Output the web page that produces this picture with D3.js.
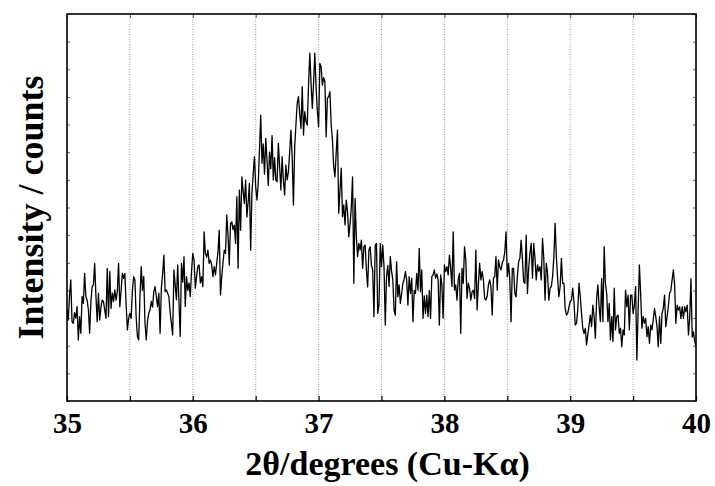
<!DOCTYPE html>
<html>
<head>
<meta charset="utf-8">
<script src="https://cdn.jsdelivr.net/npm/d3@7"></script>
<style>
  body { margin: 0; background: #fff; }
  svg { display: block; font-family: "Liberation Serif", "Times New Roman", serif; }
</style>
</head>
<body>
<div id="chart"></div>
<script>
// 2theta scan, 35.00 -> 40.00 deg, step 0.01
const thetaStart = 35;
const thetaStep = 0.01;
const counts = [
  330, 293, 380, 438, 287, 281, 320, 300, 341, 221,
  305, 245, 378, 353, 462, 378, 365, 330, 245, 360,
  414, 420, 498, 380, 287, 390, 293, 340, 365, 359,
  329, 299, 480, 305, 468, 335, 390, 360, 402, 365,
  396, 498, 341, 400, 462, 444, 462, 350, 257, 300,
  317, 299, 400, 450, 438, 300, 233, 221, 380, 486,
  400, 450, 281, 221, 290, 317, 330, 360, 340, 396,
  414, 378, 341, 390, 245, 408, 460, 528, 396, 402,
  390, 378, 320, 281, 239, 474, 420, 366, 492, 360,
  233, 498, 430, 522, 342, 450, 400, 427, 378, 470,
  534, 510, 408, 450, 486, 492, 427, 450, 414, 612,
  534, 520, 546, 498, 510, 492, 450, 486, 456, 498,
  540, 618, 384, 450, 500, 546, 534, 673, 600, 492,
  642, 648, 620, 636, 570, 739, 480, 763, 618, 811,
  760, 715, 799, 666, 720, 787, 546, 751, 820, 884,
  775, 727, 787, 908, 1034, 860, 930, 820, 950, 870,
  780, 900, 840, 960, 800, 880, 799, 793, 932, 850,
  763, 884, 800, 745, 854, 800, 829, 900, 980, 884,
  709, 920, 1000, 1077, 1101, 1040, 986, 1137, 962, 1047,
  1010, 998, 1143, 1258, 1150, 1059, 1150, 1258, 1137, 1050,
  992, 1221, 1209, 1143, 1170, 1155, 956, 1095, 1100, 1119,
  1000, 944, 848, 811, 900, 980, 679, 760, 842, 667,
  709, 637, 727, 685, 594, 640, 700, 811, 426, 733,
  594, 522, 570, 546, 582, 480, 558, 564, 474, 413,
  546, 558, 492, 474, 305, 564, 570, 317, 347, 570,
  486, 564, 486, 275, 450, 490, 414, 522, 470, 438,
  329, 311, 504, 377, 420, 353, 389, 426, 440, 468,
  438, 347, 450, 389, 444, 287, 400, 389, 462, 401,
  552, 395, 474, 299, 380, 317, 383, 305, 400, 299,
  450, 456, 474, 444, 460, 438, 275, 456, 420, 299,
  492, 468, 486, 456, 528, 480, 414, 612, 401, 420,
  365, 440, 462, 245, 480, 426, 558, 510, 371, 426,
  408, 365, 395, 401, 371, 546, 329, 420, 498, 438,
  468, 438, 371, 365, 380, 420, 438, 414, 311, 444,
  450, 522, 401, 510, 486, 474, 500, 510, 540, 612,
  450, 498, 438, 287, 480, 480, 389, 377, 450, 504,
  516, 582, 516, 432, 426, 600, 389, 480, 534, 570,
  444, 570, 516, 438, 492, 470, 486, 438, 588, 516,
  365, 498, 462, 365, 408, 414, 450, 520, 643, 522,
  444, 377, 414, 516, 426, 426, 335, 311, 317, 340,
  359, 365, 408, 359, 275, 281, 329, 426, 380, 317,
  263, 245, 263, 203, 240, 275, 311, 269, 347, 305,
  227, 371, 420, 341, 287, 443, 287, 558, 426, 389,
  287, 353, 221, 305, 215, 408, 257, 305, 311, 245,
  263, 196, 257, 239, 401, 341, 383, 257, 383, 383,
  317, 347, 414, 148, 329, 492, 389, 263, 305, 281,
  299, 233, 269, 209, 275, 257, 293, 335, 305, 269,
  196, 305, 209, 317, 335, 383, 269, 305, 341, 389,
  400, 438, 474, 420, 281, 347, 329, 341, 299, 341,
  299, 341, 323, 347, 239, 300, 443, 231, 250, 215,
  200
];

const xTicks = [35, 35.5, 36, 36.5, 37, 37.5, 38, 38.5, 39, 39.5, 40];
const xLabels = [35, 36, 37, 38, 39, 40];
const gridLines = [35.5, 36, 36.5, 37, 37.5, 38, 38.5, 39, 39.5];
const yTicks = [0, 100, 200, 300, 400, 500, 600, 700, 800, 900, 1000, 1100, 1200, 1300, 1400];

const W = 715, H = 486;
const margin = { top: 14, right: 19, bottom: 85, left: 67 };
const width = W - margin.left - margin.right;
const height = H - margin.top - margin.bottom;

const data = counts.map((c, i) => ({ theta: thetaStart + i * thetaStep, c: c }));

const svg = d3.select('#chart').append('svg')
    .attr('width', W)
    .attr('height', H);

const g = svg.append('g')
    .attr('transform', `translate(${margin.left}, ${margin.top})`);

const x = d3.scaleLinear().domain([35, 40]).range([0, width]);
const y = d3.scaleLinear().domain([0, 1400]).range([height, 0]);

// dotted grid
g.selectAll('.grid')
    .data(gridLines)
    .enter()
    .append('line')
    .attr('class', 'grid')
    .attr('x1', d => x(d)).attr('x2', d => x(d))
    .attr('y1', 0).attr('y2', height)
    .attr('stroke', '#999')
    .attr('stroke-width', 1)
    .attr('stroke-dasharray', '1,1.5');

// bottom axis, inner ticks
const xAxis = g.append('g')
    .attr('transform', `translate(0, ${height})`)
    .call(d3.axisBottom(x).tickValues(xTicks).tickSizeInner(-5).tickSizeOuter(0).tickPadding(11)
        .tickFormat(d => xLabels.includes(d) ? d : ''));
xAxis.select('.domain').remove();
xAxis.selectAll('line').attr('stroke', '#000').attr('stroke-width', 1.2);
xAxis.selectAll('text')
    .attr('fill', '#000')
    .style('font-family', '"Liberation Serif", serif')
    .style('font-weight', 'bold')
    .style('font-size', '29px');

// top ticks
const xTop = g.append('g')
    .call(d3.axisTop(x).tickValues(xTicks).tickSizeInner(-4).tickSizeOuter(0).tickFormat(''));
xTop.select('.domain').remove();
xTop.selectAll('line').attr('stroke', '#555');

// y ticks, both sides, no labels
const yLeft = g.append('g')
    .call(d3.axisLeft(y).tickValues(yTicks).tickSizeInner(-3).tickSizeOuter(0).tickFormat(''));
yLeft.select('.domain').remove();
yLeft.selectAll('line').attr('stroke', '#666');

const yRight = g.append('g')
    .attr('transform', `translate(${width}, 0)`)
    .call(d3.axisRight(y).tickValues(yTicks).tickSizeInner(-3).tickSizeOuter(0).tickFormat(''));
yRight.select('.domain').remove();
yRight.selectAll('line').attr('stroke', '#666');

// the scan
const line = d3.line()
    .x(d => x(d.theta))
    .y(d => y(d.c));

g.append('path')
    .datum(data)
    .attr('fill', 'none')
    .attr('stroke', '#000')
    .attr('stroke-width', 1.3)
    .attr('stroke-linejoin', 'round')
    .attr('d', line);

// frame
g.append('rect')
    .attr('x', 0).attr('y', 0)
    .attr('width', width).attr('height', height)
    .attr('fill', 'none')
    .attr('stroke', '#000')
    .attr('stroke-width', 1.6);

// axis titles
g.append('text')
    .attr('x', width / 2 + 6)
    .attr('y', height + 74)
    .attr('text-anchor', 'middle')
    .style('font-weight', 'bold')
    .style('font-size', '34px')
    .text('2θ/degrees (Cu-Kα)');

g.append('text')
    .attr('transform', 'rotate(-90)')
    .attr('x', -height / 2)
    .attr('y', -margin.left + 43)
    .attr('text-anchor', 'middle')
    .style('font-weight', 'bold')
    .style('font-size', '36px')
    .text('Intensity / counts');
</script>
</body>
</html>
